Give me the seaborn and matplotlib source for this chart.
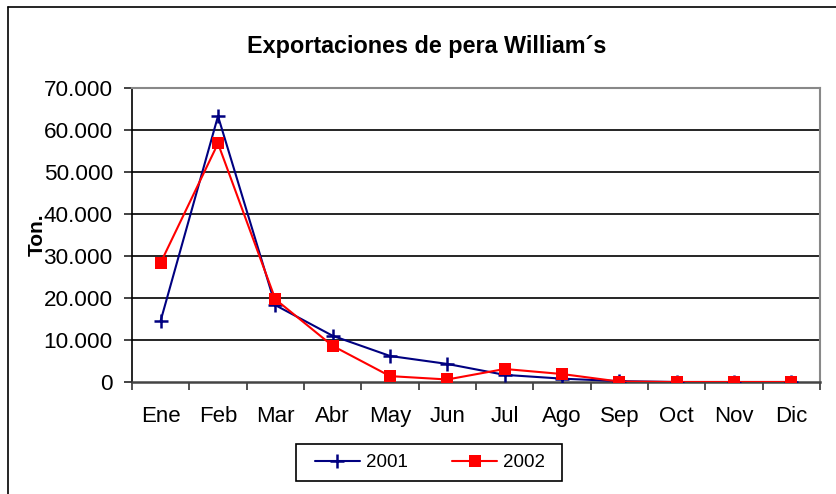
import numpy as np
import pandas as pd
import matplotlib
matplotlib.use("Agg")
import matplotlib.pyplot as plt
import seaborn as sns
from matplotlib.lines import Line2D
from matplotlib.patches import Rectangle
from matplotlib.ticker import FuncFormatter, FixedLocator

# data (Ton.)
meses = ['Ene', 'Feb', 'Mar', 'Abr', 'May', 'Jun', 'Jul', 'Ago', 'Sep', 'Oct', 'Nov', 'Dic']
ton_2001 = [14600, 63300, 18300, 11000, 6200, 4300, 1700, 800, 200, 0, 0, 0]
ton_2002 = [28400, 56800, 19700, 8600, 1400, 600, 3100, 1900, 100, 0, 0, 0]
y_ticks = [0, 10000, 20000, 30000, 40000, 50000, 60000, 70000]

df = pd.DataFrame({
    'mes': meses * 2,
    'pos': list(range(12)) * 2,
    'ton': ton_2001 + ton_2002,
    'anio': ['2001'] * 12 + ['2002'] * 12,
})

sns.set_theme(style='white')
plt.rcParams['font.family'] = ['Liberation Sans', 'DejaVu Sans']
for k in ['text.color', 'axes.labelcolor', 'xtick.color', 'ytick.color']:
    plt.rcParams[k] = 'black'

W, H = 836, 494
fig = plt.figure(figsize=(W / 100, H / 100), dpi=100)
ax = fig.add_axes([132 / W, 1 - 382 / H, 688 / W, 294 / H])

palette = {'2001': '#000080', '2002': '#FF0000'}
markers = {'2001': '+', '2002': 's'}
msize = {'2001': 10, '2002': 8.3}
mew = {'2001': 1.8, '2002': 0}

for anio, grp in df.groupby('anio'):
    sns.lineplot(data=grp, x='pos', y='ton', ax=ax, color=palette[anio],
                 marker=markers[anio], markersize=msize[anio],
                 markeredgewidth=mew[anio], markeredgecolor=palette[anio],
                 linewidth=1.5, label=anio, legend=False, zorder=3)

ax.set_xlim(-0.5, 11.5)
ax.set_ylim(0, 70000)
ax.set_xticks(range(12))
ax.set_xticklabels(meses)
ax.xaxis.set_minor_locator(FixedLocator(np.arange(-0.5, 12, 1)))
ax.tick_params(axis='x', which='major', length=0, pad=17, labelsize=16)
ax.tick_params(axis='x', which='minor', length=5.8, width=1.2, color='#333333', direction='out', bottom=True)
ax.set_yticks(y_ticks)
ax.yaxis.set_major_formatter(FuncFormatter(lambda v, p: f'{int(v):,}'.replace(',', '.')))
ax.tick_params(axis='y', length=5.8, width=1.2, color='#222222', pad=8, labelsize=16.2, direction='out', left=True)
ax.set_xlabel('')
ax.set_ylabel('Ton.', fontsize=15, fontweight='bold')
ax.yaxis.set_label_coords(-0.124, 0.5)

for v in y_ticks[1:-1]:
    ax.axhline(v, color='black', linewidth=1.2, zorder=0)

for side in ['top', 'right']:
    ax.spines[side].set_color('#888888')
    ax.spines[side].set_linewidth(1.5)
ax.spines['left'].set_color('black')
ax.spines['left'].set_linewidth(1.2)
ax.spines['bottom'].set_color('#444444')
ax.spines['bottom'].set_linewidth(1.8)

fig.text(427 / W, 1 - 47 / H, 'Exportaciones de pera William\u00b4s',
         ha='center', va='center', fontsize=16.8, fontweight='bold')

handles = [Line2D([], [], color=palette[a], marker=markers[a], linewidth=1.5,
                  markersize=msize[a], markeredgewidth=mew[a],
                  markeredgecolor=palette[a]) for a in ['2001', '2002']]
leg = fig.legend(handles, ['2001', '2002'], loc='center', ncol=2,
                 bbox_to_anchor=(430 / W, 1 - 462.5 / H), fontsize=13.5,
                 frameon=False, handlelength=2.4, handletextpad=0.3,
                 columnspacing=2.4, borderpad=0, borderaxespad=0)

# legend box drawn by hand so the side margins match
fig.add_artist(Rectangle((296 / W, 1 - 481 / H), 266 / W, 37 / H, fill=False,
                         edgecolor='black', linewidth=1.2, transform=fig.transFigure))

# outer chart frame (only left and top are visible in the crop)
fig.add_artist(Line2D([8 / W, 8 / W], [0, 1 - 7 / H], color='black', linewidth=1.2, transform=fig.transFigure))
fig.add_artist(Line2D([8 / W, 1], [1 - 7 / H, 1 - 7 / H], color='black', linewidth=1.2, transform=fig.transFigure))

fig.savefig('out.png', dpi=100)
